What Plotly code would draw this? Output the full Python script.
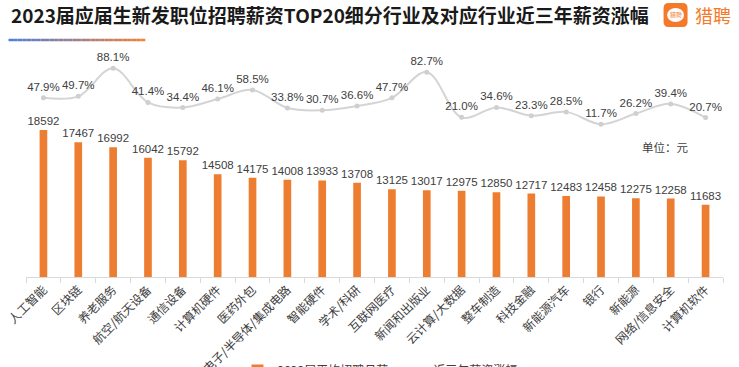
import plotly.graph_objects as go

categories = ["人工智能", "区块链", "养老服务", "航空/航天设备", "通信设备", "计算机硬件", "医药外包",
              "电子/半导体/集成电路", "智能硬件", "学术/科研", "互联网医疗", "新闻和出版业", "云计算/大数据",
              "整车制造", "科技金融", "新能源汽车", "银行", "新能源", "网络/信息安全", "计算机软件"]
salary = [18592, 17467, 16992, 16042, 15792, 14508, 14175, 14008, 13933, 13708,
          13125, 13017, 12975, 12850, 12717, 12483, 12458, 12275, 12258, 11683]
growth = [47.9, 49.7, 88.1, 41.4, 34.4, 46.1, 58.5, 33.8, 30.7, 36.6,
          47.7, 82.7, 21.0, 34.6, 23.3, 28.5, 11.7, 26.2, 39.4, 20.7]

title_text = "2023届应届生新发职位招聘薪资TOP20细分行业及对应行业近三年薪资涨幅"
bar_name = "2023届平均招聘月薪"
line_name = "近三年薪资涨幅"
unit_text = "单位：元"
brand = "猎聘"

W, H = 739, 367
L, R, T, B = 25.5, 15.5, 50, 90
PW, PH = W - L - R, H - T - B

def px(x):
    return (x - L) / PW

def py(y):
    return (H - B - y) / PH

FONT = "Liberation Sans, Arial, Noto Sans CJK SC, sans-serif"
CJK = "Noto Sans CJK SC, sans-serif"

fig = go.Figure()
fig.add_trace(go.Bar(
    x=categories, y=salary, name=bar_name,
    marker=dict(color="#ED7D31", line=dict(width=0)),
    width=0.22,
    text=[str(v) for v in salary], textposition="outside",
    constraintext="none",
    textfont=dict(size=11.5, color="#404040", family=FONT),
    cliponaxis=False,
))
fig.add_trace(go.Scatter(
    x=categories, y=growth, name=line_name, yaxis="y2",
    mode="lines+markers+text",
    line=dict(color="#D4D4D4", width=2, shape="spline", smoothing=1.0),
    marker=dict(color="#CFCFCF", size=5),
    text=[f"{v:.1f}%" for v in growth], textposition="top center",
    textfont=dict(size=11.5, color="#404040", family=FONT),
    cliponaxis=False,
))

shapes = []
# gradient underline below title
x0, x1, yl = 8, 145, 40
n = 30
c0 = (79, 127, 216)
c1 = (240, 128, 58)
for i in range(n):
    t = i / (n - 1)
    c = tuple(int(c0[k] + (c1[k] - c0[k]) * t) for k in range(3))
    xa = x0 + (x1 - x0) * i / n
    xb = x0 + (x1 - x0) * (i + 1) / n
    shapes.append(dict(type="line", xref="paper", yref="paper",
                       x0=px(xa), x1=px(xb), y0=py(yl), y1=py(yl),
                       line=dict(color=f"rgb{c}", width=2.5)))

# logo rounded square
lx0, lx1, ly0, ly1, r = 664, 688, 3, 27, 5
path = (f"M {px(lx0+r)} {py(ly0)} L {px(lx1-r)} {py(ly0)} Q {px(lx1)} {py(ly0)} {px(lx1)} {py(ly0+r)} "
        f"L {px(lx1)} {py(ly1-r)} Q {px(lx1)} {py(ly1)} {px(lx1-r)} {py(ly1)} "
        f"L {px(lx0+r)} {py(ly1)} Q {px(lx0)} {py(ly1)} {px(lx0)} {py(ly1-r)} "
        f"L {px(lx0)} {py(ly0+r)} Q {px(lx0)} {py(ly0)} {px(lx0+r)} {py(ly0)} Z")
shapes.append(dict(type="path", xref="paper", yref="paper", path=path,
                   fillcolor="#F47A2A", line=dict(width=0)))
shapes.append(dict(type="circle", xref="paper", yref="paper",
                   x0=px(667.5), x1=px(684.5), y0=py(8), y1=py(22),
                   fillcolor="white", line=dict(width=0)))

annotations = [
    dict(text=f"<b>{title_text}</b>", xref="paper", yref="paper", x=px(8), y=py(15),
         xanchor="left", yanchor="middle", showarrow=False,
         font=dict(size=19, color="#1a1a1a", family=CJK)),
    dict(text=unit_text, xref="paper", yref="paper", x=px(640), y=py(147),
         xanchor="left", yanchor="middle", showarrow=False,
         font=dict(size=11.5, color="#404040", family=CJK)),
    dict(text=brand, xref="paper", yref="paper", x=px(676), y=py(15),
         xanchor="center", yanchor="middle", showarrow=False,
         font=dict(size=6, color="#F47A2A", family=CJK)),
    dict(text=brand, xref="paper", yref="paper", x=px(693), y=py(15),
         xanchor="left", yanchor="middle", showarrow=False,
         font=dict(size=18, color="#F47A2A", family=CJK)),
]

fig.update_layout(
    width=W, height=H,
    margin=dict(l=L, r=R, t=T, b=B, autoexpand=False),
    paper_bgcolor="white", plot_bgcolor="white",
    xaxis=dict(range=[-0.5, len(categories) - 0.5], autorange=False,
               showline=True, linecolor="#D9D9D9", linewidth=1,
               ticks="outside", tickson="boundaries", ticklen=5, tickcolor="#D9D9D9",
               tickangle=-45, tickfont=dict(size=12, color="#404040", family=CJK),
               showgrid=False, automargin=False),
    yaxis=dict(range=[5000, 26000], visible=False, showgrid=False, zeroline=False),
    yaxis2=dict(range=[-197, 113], overlaying="y", visible=False,
                showgrid=False, zeroline=False),
    showlegend=True,
    legend=dict(orientation="h", x=px(380), xanchor="center", y=py(356), yanchor="top",
                font=dict(size=12, color="#404040", family=CJK),
                bgcolor="rgba(0,0,0,0)"),
    shapes=shapes, annotations=annotations,
    bargap=0.5,
)

fig.write_html("out.html", config={"displayModeBar": False},
               post_script="document.body.style.margin='0';document.body.style.padding='0';document.body.style.overflow='hidden';")
